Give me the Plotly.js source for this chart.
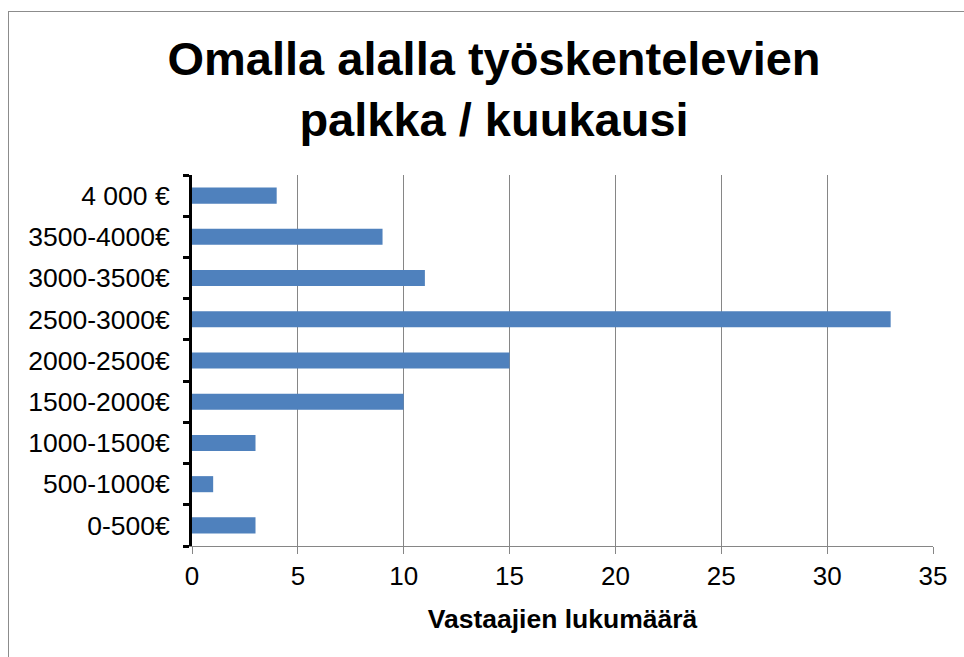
<!DOCTYPE html>
<html>
<head>
<meta charset="utf-8">
<script src="https://cdn.plot.ly/plotly-3.0.1.min.js"></script>
<style>
  html, body { margin: 0; padding: 0; background: #ffffff; }
  #wrap { position: relative; width: 964px; height: 657px; }
  #chart { width: 964px; height: 657px; }
  #frame { position: absolute; left: 8px; top: 11px; width: 970px; height: 660px;
           border-left: 1px solid #8c8c8c; border-top: 1px solid #8c8c8c; pointer-events: none; }
</style>
</head>
<body>
<div id="wrap">
  <div id="chart"></div>
  <div id="frame"></div>
</div>
<script>
// Data (bottom to top as drawn)
const categories = ["0-500€", "500-1000€", "1000-1500€", "1500-2000€", "2000-2500€", "2500-3000€", "3000-3500€", "3500-4000€", "4 000 €"];
const counts = [3, 1, 3, 10, 15, 33, 11, 9, 4];
const xTickValues = [0, 5, 10, 15, 20, 25, 30, 35];
const titleText = "Omalla alalla työskentelevien<br>palkka / kuukausi";
const xTitleText = "Vastaajien lukumäärä";

const trace = {
  type: "bar",
  orientation: "h",
  x: counts,
  y: categories,
  marker: { color: "#4F81BD" },
  hoverinfo: "x+y"
};

const layout = {
  width: 964,
  height: 657,
  margin: { l: 192, r: 31, t: 175, b: 111 },
  paper_bgcolor: "#ffffff",
  plot_bgcolor: "#ffffff",
  bargap: 0.61,
  showlegend: false,
  font: { family: "Liberation Sans, Arial, sans-serif", color: "#000000" },
  title: {
    text: titleText,
    font: { family: "Liberation Sans, Arial, sans-serif", size: 47, color: "#000000", weight: "bold" },
    x: 494 / 964, xanchor: "center", xref: "container",
    y: 1 - 75 / 657, yanchor: "top", yref: "container"
  },
  xaxis: {
    range: [0, 35],
    tickvals: xTickValues,
    ticktext: xTickValues.map(String),
    showgrid: true,
    gridcolor: "#868686",
    gridwidth: 1,
    zeroline: false,
    showline: true,
    linecolor: "#868686",
    linewidth: 1,
    ticks: "outside",
    ticklen: 7,
    tickcolor: "#868686",
    tickwidth: 1,
    tickfont: { size: 26, color: "#000000" },
    title: {
      text: xTitleText,
      font: { size: 26.5, color: "#000000", weight: "bold" },
      standoff: 19
    },
    fixedrange: true
  },
  yaxis: {
    type: "category",
    categoryorder: "array",
    categoryarray: categories,
    tickson: "boundaries",
    showgrid: false,
    zeroline: false,
    showline: true,
    linecolor: "#000000",
    linewidth: 3,
    ticks: "outside",
    ticklen: 6,
    tickcolor: "#000000",
    tickwidth: 3,
    ticklabelstandoff: 14,
    tickfont: { size: 26.5, color: "#000000" },
    fixedrange: true
  }
};

Plotly.newPlot("chart", [trace], layout, { displayModeBar: false, staticPlot: true });
</script>
</body>
</html>
